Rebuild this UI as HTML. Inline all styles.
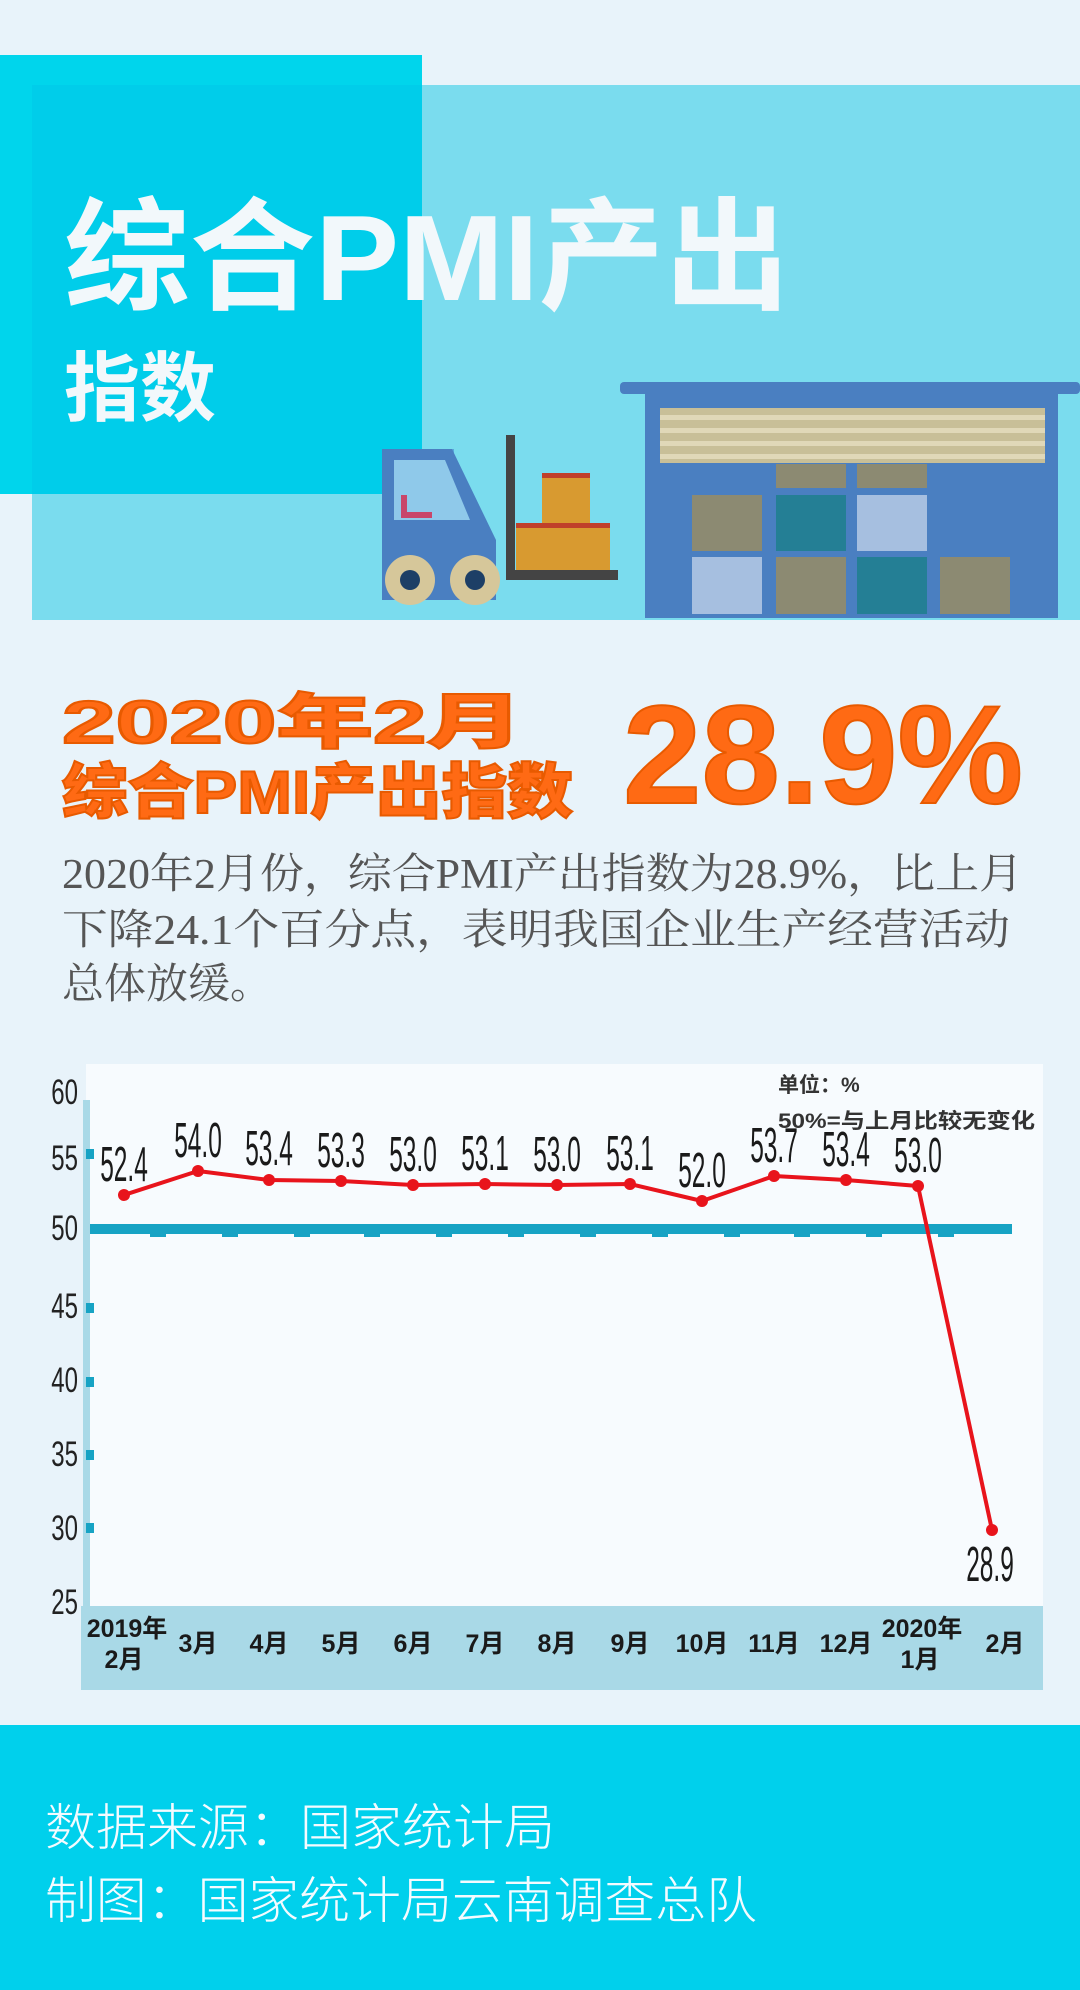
<!DOCTYPE html>
<html><head><meta charset="utf-8"><style>
html,body{margin:0;padding:0;background:#e8f3fa;}
svg{display:block}
</style></head><body>
<svg width="1080" height="1990" viewBox="0 0 1080 1990" xmlns="http://www.w3.org/2000/svg">
<rect width="1080" height="1990" fill="#e8f3fa"/>
<rect x="32" y="85" width="1048" height="535" fill="#7adcee"/>
<rect x="0" y="55" width="422" height="439" fill="#00d5ec"/>
<rect x="32" y="85" width="390" height="409" fill="#00cdea"/>
<text x="64" y="300" font-family="Liberation Sans, Noto Sans CJK SC, sans-serif" font-weight="bold" font-size="122" fill="#f2f8fb" textLength="726" lengthAdjust="spacingAndGlyphs">综合PMI产出</text>
<text x="64" y="415" font-family="Liberation Sans, Noto Sans CJK SC, sans-serif" font-weight="bold" font-size="76" fill="#f2f8fb">指数</text>
<rect x="620" y="382" width="460" height="12" rx="4" fill="#4a7fc1"/>
<rect x="645" y="390" width="413" height="228" fill="#4a7fc1"/>
<rect x="660" y="408" width="385" height="55" fill="#c8bf98"/>
<rect x="660" y="415" width="385" height="5" fill="#e0d8b8"/>
<rect x="660" y="428" width="385" height="5" fill="#e0d8b8"/>
<rect x="660" y="441" width="385" height="5" fill="#e0d8b8"/>
<rect x="660" y="454" width="385" height="5" fill="#e0d8b8"/>
<rect x="776" y="464" width="70" height="24" fill="#8c8a72"/>
<rect x="857" y="464" width="70" height="24" fill="#8c8a72"/>
<rect x="692" y="495" width="70" height="56" fill="#8c8a72"/>
<rect x="776" y="495" width="70" height="56" fill="#247f95"/>
<rect x="857" y="495" width="70" height="56" fill="#a6bfe0"/>
<rect x="692" y="557" width="70" height="57" fill="#a6bfe0"/>
<rect x="776" y="557" width="70" height="57" fill="#8c8a72"/>
<rect x="857" y="557" width="70" height="57" fill="#247f95"/>
<rect x="940" y="557" width="70" height="57" fill="#8c8a72"/>
<rect x="388" y="449" width="66" height="80" fill="#5aa8dc"/>
<polygon points="382,449 452,449 496,540 496,600 382,600" fill="#4a7fc1"/>
<polygon points="394,460 445,460 470,520 394,520" fill="#8fc9ea"/>
<path d="M404 495 L404 515 L432 515" stroke="#c8466a" stroke-width="6" fill="none"/>
<rect x="506" y="435" width="9" height="142" fill="#444"/>
<rect x="506" y="570" width="112" height="10" fill="#444"/>
<rect x="542" y="475" width="48" height="50" fill="#d89a30"/>
<rect x="542" y="473" width="48" height="5" fill="#c0402a"/>
<rect x="516" y="525" width="94" height="45" fill="#d89a30"/>
<rect x="516" y="523" width="94" height="5" fill="#c0402a"/>
<circle cx="410" cy="580" r="25" fill="#d6c79a"/><circle cx="410" cy="580" r="10" fill="#1d3f66"/>
<circle cx="475" cy="580" r="25" fill="#d6c79a"/><circle cx="475" cy="580" r="10" fill="#1d3f66"/>
<g font-family="Liberation Sans, Noto Sans CJK SC, sans-serif" font-weight="900" fill="#ff6a14" stroke="#e85a00" stroke-width="2">
<text x="62" y="743" font-size="60" textLength="461" lengthAdjust="spacingAndGlyphs">2020年2月</text>
<text x="62" y="813" font-size="60" textLength="511" lengthAdjust="spacingAndGlyphs">综合PMI产出指数</text>
<text x="623" y="803" font-size="140" textLength="400" lengthAdjust="spacingAndGlyphs">28.9%</text>
</g>
<g font-family="Liberation Serif, Noto Serif CJK SC, serif" font-size="42" fill="#555">
<text x="62" y="888" textLength="961" lengthAdjust="spacingAndGlyphs">2020年2月份，综合PMI产出指数为28.9%，比上月</text>
<text x="62" y="944" textLength="948" lengthAdjust="spacingAndGlyphs">下降24.1个百分点，表明我国企业生产经营活动</text>
<text x="62" y="998">总体放缓。</text>
</g>
<rect x="86" y="1064" width="957" height="626" fill="#f7fbfe"/>
<rect x="81" y="1606" width="962" height="84" fill="#a9d9e7"/>
<rect x="83" y="1100" width="7" height="506" fill="#a9d9e7"/>
<g fill="#17a3c4">
<rect x="86" y="1149" width="8" height="10"/>
<rect x="86" y="1303" width="8" height="10"/>
<rect x="86" y="1377" width="8" height="10"/>
<rect x="86" y="1450" width="8" height="10"/>
<rect x="86" y="1523" width="8" height="10"/>
</g>
<g font-family="Liberation Sans, sans-serif" font-size="32" fill="#222" text-anchor="end">
<text transform="translate(78 1104) scale(0.75 1.1)">60</text>
<text transform="translate(78 1170) scale(0.75 1.1)">55</text>
<text transform="translate(78 1240) scale(0.75 1.1)">50</text>
<text transform="translate(78 1318) scale(0.75 1.1)">45</text>
<text transform="translate(78 1392) scale(0.75 1.1)">40</text>
<text transform="translate(78 1466) scale(0.75 1.1)">35</text>
<text transform="translate(78 1540) scale(0.75 1.1)">30</text>
<text transform="translate(78 1614) scale(0.75 1.1)">25</text>
</g>
<rect x="90" y="1224" width="922" height="10" fill="#17a3c4"/>
<g fill="#17a3c4">
<rect x="150" y="1232" width="16" height="5"/><rect x="222" y="1232" width="16" height="5"/><rect x="294" y="1232" width="16" height="5"/><rect x="364" y="1232" width="16" height="5"/><rect x="436" y="1232" width="16" height="5"/><rect x="508" y="1232" width="16" height="5"/><rect x="580" y="1232" width="16" height="5"/><rect x="652" y="1232" width="16" height="5"/><rect x="724" y="1232" width="16" height="5"/><rect x="794" y="1232" width="16" height="5"/><rect x="866" y="1232" width="16" height="5"/><rect x="938" y="1232" width="16" height="5"/>
</g>
<polyline fill="none" stroke="#e8141c" stroke-width="4" stroke-linejoin="round" points="124,1195 198,1171 269,1180 341,1181 413,1185 485,1184 557,1185 630,1184 702,1201 774,1176 846,1180 918,1186 992,1530"/>
<g fill="#e8141c">
<circle cx="124" cy="1195" r="6"/><circle cx="198" cy="1171" r="6"/><circle cx="269" cy="1180" r="6"/><circle cx="341" cy="1181" r="6"/><circle cx="413" cy="1185" r="6"/><circle cx="485" cy="1184" r="6"/><circle cx="557" cy="1185" r="6"/><circle cx="630" cy="1184" r="6"/><circle cx="702" cy="1201" r="6"/><circle cx="774" cy="1176" r="6"/><circle cx="846" cy="1180" r="6"/><circle cx="918" cy="1186" r="6"/><circle cx="992" cy="1530" r="6"/>
</g>
<g font-family="Liberation Sans, sans-serif" font-size="34" fill="#1a1a1a" text-anchor="middle">
<text transform="translate(124 1181) scale(0.72 1.45)">52.4</text>
<text transform="translate(198 1157) scale(0.72 1.45)">54.0</text>
<text transform="translate(269 1165) scale(0.72 1.45)">53.4</text>
<text transform="translate(341 1167) scale(0.72 1.45)">53.3</text>
<text transform="translate(413 1171) scale(0.72 1.45)">53.0</text>
<text transform="translate(485 1170) scale(0.72 1.45)">53.1</text>
<text transform="translate(557 1171) scale(0.72 1.45)">53.0</text>
<text transform="translate(630 1170) scale(0.72 1.45)">53.1</text>
<text transform="translate(702 1187) scale(0.72 1.45)">52.0</text>
<text transform="translate(774 1162) scale(0.72 1.45)">53.7</text>
<text transform="translate(846 1166) scale(0.72 1.45)">53.4</text>
<text transform="translate(918 1172) scale(0.72 1.45)">53.0</text>
<text transform="translate(990 1581) scale(0.72 1.45)">28.9</text>
</g>
<g font-family="Liberation Sans, Noto Sans CJK SC, sans-serif" font-size="21" font-weight="bold" fill="#333">
<text x="778" y="1092">单位：%</text>
<text x="778" y="1128" textLength="257" lengthAdjust="spacingAndGlyphs">50%=与上月比较无变化</text>
</g>
<g font-family="Liberation Sans, Noto Sans CJK SC, sans-serif" font-size="25" font-weight="bold" fill="#1a1a1a" text-anchor="middle">
<text x="127" y="1637">2019年</text><text x="124" y="1668">2月</text>
<text x="198" y="1652">3月</text><text x="269" y="1652">4月</text><text x="341" y="1652">5月</text><text x="413" y="1652">6月</text><text x="485" y="1652">7月</text><text x="557" y="1652">8月</text><text x="630" y="1652">9月</text><text x="702" y="1652">10月</text><text x="774" y="1652">11月</text><text x="846" y="1652">12月</text>
<text x="922" y="1637">2020年</text><text x="920" y="1668">1月</text>
<text x="1005" y="1652">2月</text>
</g>
<rect x="0" y="1725" width="1080" height="265" fill="#00d0ec"/>
<g font-family="Liberation Sans, Noto Sans CJK SC, sans-serif" font-size="50" font-weight="300" fill="#f4fbff">
<text x="45" y="1845" textLength="510" lengthAdjust="spacingAndGlyphs">数据来源：国家统计局</text>
<text x="45" y="1918" textLength="712" lengthAdjust="spacingAndGlyphs">制图：国家统计局云南调查总队</text>
</g>
</svg>
</body></html>
